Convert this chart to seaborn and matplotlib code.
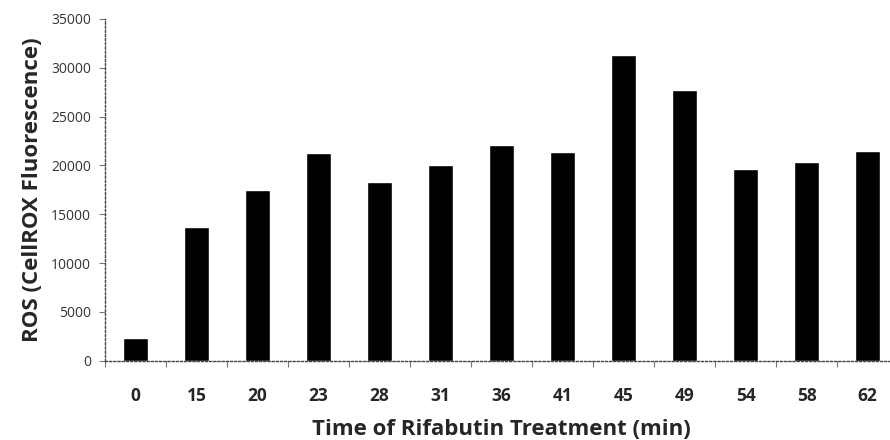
import matplotlib
matplotlib.use("Agg")
import matplotlib.pyplot as plt
import seaborn as sns
import pandas as pd
import numpy as np

times = ["0", "15", "20", "23", "28", "31", "36", "41", "45", "49", "54", "58", "62"]
ros = [2350, 13700, 17500, 21300, 18300, 20050, 22100, 21400, 31300, 27700, 19650, 20350, 21500]

df = pd.DataFrame({"time": times, "ros": ros})

sns.set_style("white")
plt.rcParams["font.family"] = ["Open Sans", "DejaVu Sans"]

fig = plt.figure(figsize=(8.9, 4.4), dpi=100)
ax = fig.add_axes([0.118, 0.18, 0.891, 0.777])

sns.barplot(data=df, x="time", y="ros", color="black", width=0.41,
            saturation=1, ax=ax)

ax.set_ylim(0, 35000)
ax.set_yticks(range(0, 35001, 5000))
ax.set_xlim(-0.5, len(times) - 0.5)

for side in ["top", "right"]:
    ax.spines[side].set_visible(False)
for side in ["left", "bottom"]:
    ax.spines[side].set_linestyle((0, (1.5, 1.5)))
    ax.spines[side].set_color("#444444")
    ax.spines[side].set_linewidth(1)

# y ticks: short outward marks
ax.tick_params(axis="y", direction="out", length=4, width=0.8, color="#777777",
               labelsize=10, labelcolor="#333333", pad=6, left=True)
# x: ticks between categories, labels at centres
ax.set_xticks(np.arange(-0.5, len(times), 1), minor=True)
ax.tick_params(axis="x", which="minor", direction="out", length=4, width=0.8,
               color="#777777", bottom=True)
ax.tick_params(axis="x", which="major", length=0, pad=19, labelsize=12.5)
for lab in ax.get_xticklabels():
    lab.set_fontweight("bold")

ax.set_xlabel("Time of Rifabutin Treatment (min)", fontsize=16,
              fontweight="bold", labelpad=10)
ax.set_ylabel("ROS (CellROX Fluorescence)", fontsize=16,
              fontweight="bold", labelpad=6)

fig.savefig("out.png", dpi=100)
